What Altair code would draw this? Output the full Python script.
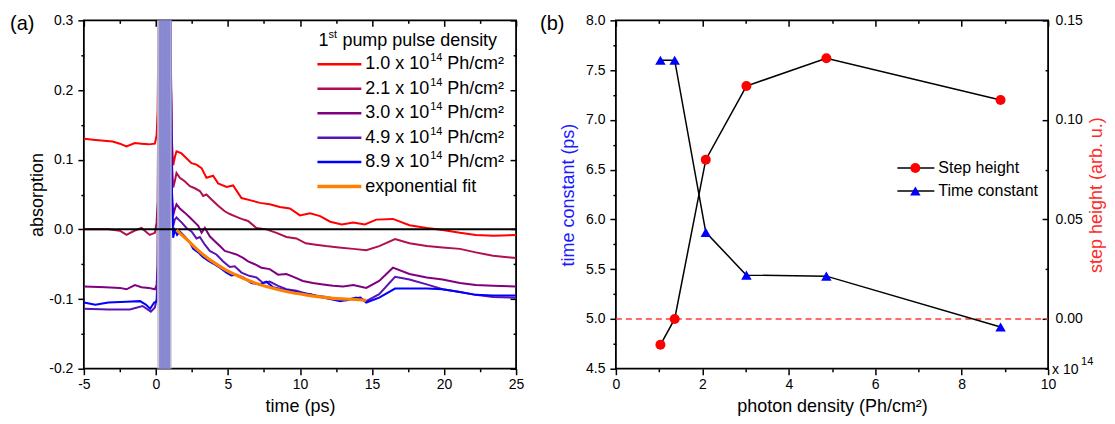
import altair as alt
import pandas as pd

FONT = "Liberation Sans"
W, H = 433, 349

# ---------------- panel (a): transient absorption traces ----------------
RED_T = [-5, -4, -3, -2.5, -2.04, -1.46, -1.0, -0.5, -0.07, 0.05, 0.12, 0.25, 0.45, 0.65, 0.85, 1.0, 1.08,
         1.2, 1.31, 1.43, 1.78, 2.12, 2.47, 2.82, 3.17, 3.51, 3.97, 4.32, 4.9, 5.36, 5.94, 6.52, 7.21, 7.9,
         8.6, 9.3, 10.0, 10.7, 11.4, 12.1, 12.9, 13.7, 14.5, 15.3, 16.45, 17.6, 18.8, 19.9, 21.1, 22.2, 23.4, 25]
RED_V = [0.130, 0.128, 0.126, 0.123, 0.119, 0.124, 0.123, 0.122, 0.123, 0.135, 0.17, 0.45, -0.3, 0.45, -0.3, 0.35, 0.14,
         0.092, 0.103, 0.112, 0.109, 0.102, 0.095, 0.093, 0.088, 0.074, 0.077, 0.066, 0.061, 0.063, 0.045, 0.042, 0.038, 0.036,
         0.032, 0.030, 0.020, 0.023, 0.019, 0.011, 0.007, 0.010, 0.007, 0.014, 0.015, 0.006, 0.002, -0.001, -0.005, -0.008, -0.009, -0.008]

CRIM_T = [-5, -3.3, -2.5, -2.04, -1.5, -1.0, -0.43, -0.07, 0.05, 0.12, 0.25, 0.45, 0.65, 0.85, 1.0, 1.1, 1.2,
          1.31, 1.43, 1.66, 2.0, 2.36, 2.7, 3.05, 3.28, 3.51, 3.86, 4.32, 4.78, 5.13, 5.47, 5.94, 6.4, 6.98, 7.67,
          8.37, 9.06, 9.75, 10.4, 11.1, 11.8, 12.7, 13.7, 14.6, 15.5, 16.6, 17.6, 18.8, 19.9, 21.1, 22.2, 23.4, 25]
CRIM_V = [0.0, 0.0, -0.002, -0.008, -0.002, 0.002, -0.008, -0.005, 0.01, 0.04, 0.45, -0.3, 0.45, -0.3, 0.35, 0.1, 0.06,
          0.069, 0.081, 0.074, 0.069, 0.062, 0.059, 0.055, 0.048, 0.050, 0.043, 0.034, 0.026, 0.022, 0.019, 0.015, 0.012, 0.002, 0.000,
          -0.005, -0.011, -0.013, -0.020, -0.022, -0.024, -0.026, -0.028, -0.030, -0.024, -0.014, -0.020, -0.024, -0.026, -0.028, -0.033, -0.038, -0.041]

PURP_T = [-5, -3.5, -2.5, -2.04, -1.46, -1.0, -0.5, -0.07, 0.05, 0.12, 0.25, 0.45, 0.65, 0.85, 1.0, 1.1, 1.2,
          1.31, 1.43, 1.66, 2.0, 2.36, 2.7, 2.94, 3.17, 3.4, 3.74, 4.09, 4.44, 4.78, 5.13, 5.59, 6.05, 6.4, 6.86,
          7.32, 7.9, 8.48, 9.06, 9.63, 10.2, 10.9, 11.6, 12.3, 13.0, 13.7, 14.6, 15.5, 16.45, 17.6, 18.8, 19.9,
          21.1, 22.2, 23.4, 25]
PURP_V = [-0.082, -0.083, -0.084, -0.086, -0.080, -0.083, -0.084, -0.086, -0.08, -0.05, 0.45, -0.3, 0.45, -0.3, 0.35, 0.06, 0.02,
          0.029, 0.036, 0.030, 0.024, 0.017, 0.010, 0.005, -0.005, 0.002, -0.010, -0.017, -0.024, -0.031, -0.033, -0.036, -0.041, -0.046, -0.050,
          -0.055, -0.057, -0.065, -0.064, -0.069, -0.074, -0.077, -0.079, -0.081, -0.082, -0.080, -0.084, -0.074, -0.055, -0.064, -0.069, -0.072,
          -0.077, -0.080, -0.081, -0.082]

VIOL_T = [-5, -3.3, -1.8, -0.93, -0.35, -0.07, 0.05, 0.12, 0.25, 0.45, 0.65, 0.85, 1.0, 1.1, 1.2,
          1.31, 1.43, 1.78, 2.12, 2.47, 2.82, 3.05, 3.4, 3.74, 4.2, 4.67, 5.13, 5.47, 5.94, 6.52, 6.98, 7.44,
          7.9, 8.48, 9.06, 9.75, 10.4, 11.1, 11.8, 12.5, 13.2, 13.9, 14.6, 15.5, 16.6, 17.6, 18.8, 19.9, 21.1,
          22.2, 23.4, 25]
VIOL_V = [-0.114, -0.115, -0.115, -0.110, -0.118, -0.112, -0.10, -0.06, 0.45, -0.3, 0.45, -0.3, 0.35, 0.05, 0.005,
          0.014, 0.017, 0.010, 0.002, -0.003, -0.013, -0.011, -0.022, -0.031, -0.036, -0.046, -0.054, -0.053, -0.062, -0.067, -0.069, -0.077,
          -0.075, -0.081, -0.086, -0.088, -0.092, -0.095, -0.097, -0.100, -0.102, -0.098, -0.103, -0.093, -0.068, -0.072, -0.079, -0.086, -0.090,
          -0.094, -0.097, -0.098]

BLUE_T = [-5, -4.2, -3.3, -2.04, -1.1, -0.7, -0.4, -0.12, 0.1, 0.15, 0.25, 0.45, 0.65, 0.85, 1.0, 1.1, 1.2,
          1.31, 1.47, 1.66, 2.0, 2.36, 2.59, 2.94, 3.28, 3.63, 3.97, 4.44, 4.9, 5.24, 5.59, 6.05, 6.63, 7.21,
          7.67, 8.13, 8.71, 9.29, 10.0, 10.7, 11.4, 12.1, 12.8, 13.5, 14.2, 14.6, 15.5, 16.6, 17.6, 18.8, 19.9,
          21.1, 22.2, 23.4, 25]
BLUE_V = [-0.105, -0.108, -0.105, -0.104, -0.103, -0.108, -0.114, -0.105, -0.103, -0.09, 0.45, -0.3, 0.45, -0.3, 0.35, 0.06, -0.012,
          -0.001, -0.008, -0.003, -0.010, -0.019, -0.028, -0.033, -0.040, -0.045, -0.049, -0.055, -0.062, -0.066, -0.065, -0.069, -0.077, -0.079,
          -0.075, -0.083, -0.086, -0.088, -0.091, -0.093, -0.097, -0.100, -0.103, -0.100, -0.098, -0.105, -0.098, -0.085, -0.085, -0.085, -0.086,
          -0.090, -0.094, -0.095, -0.095]

FIT_T = [1.43, 2.12, 2.82, 3.51, 4.2, 4.9, 5.82, 6.75, 7.67, 8.6, 9.52, 10.4, 11.4, 12.3, 13.2, 14.1, 14.6]
FIT_V = [-0.001, -0.014, -0.028, -0.040, -0.050, -0.059, -0.068, -0.076, -0.082, -0.087, -0.091, -0.094, -0.097,
         -0.099, -0.100, -0.101, -0.102]

SERIES_LABELS = ["1.0", "2.1", "3.0", "4.9", "8.9"]
SERIES_COLORS = ["#ff0000", "#b0104f", "#800080", "#5a14b4", "#0000ff"]
FIT_LABEL = "exponential fit"
FIT_COLOR = "#ff8000"
LEGEND_TITLE = ["1", "st", "pump pulse density"]

PUMP_BAND = [0.08, 1.10]
PUMP_CORE = [0.22, 1.00]

A_X_DOMAIN = [-5, 25]
A_Y_DOMAIN = [-0.2, 0.3]
A_X_MAJOR = [-5, 0, 5, 10, 15, 20, 25]
A_X_MINOR = [-2.5, 2.5, 7.5, 12.5, 17.5, 22.5]
A_Y_MAJOR = [-0.2, -0.1, 0.0, 0.1, 0.2, 0.3]
A_Y_MINOR = [-0.15, -0.05, 0.05, 0.15, 0.25]

# ---------------- panel (b): fit parameters ----------------
DENSITY = [1.03, 1.36, 2.08, 3.02, 4.87, 8.90]
TIME_CONST = [7.60, 7.60, 5.87, 5.44, 5.43, 4.92]
STEP_HEIGHT = [-0.013, 0.000, 0.080, 0.117, 0.131, 0.110]
B_LEGEND = ["Step height", "Time constant"]

B_X_DOMAIN = [0, 10]
B_Y1_DOMAIN = [4.5, 8.0]
B_Y2_DOMAIN = [-0.025, 0.15]
B_X_MAJOR = [0, 2, 4, 6, 8, 10]
B_X_MINOR = [1, 3, 5, 7, 9]
B_Y1_MAJOR = [4.5, 5.0, 5.5, 6.0, 6.5, 7.0, 7.5, 8.0]
B_Y1_MINOR = [4.75, 5.25, 5.75, 6.25, 6.75, 7.25, 7.75]
B_Y2_MAJOR = [0.0, 0.05, 0.10, 0.15]
B_Y2_MINOR = [-0.025, 0.025, 0.075, 0.125]
STEP_ZERO = 0.0

ONE = pd.DataFrame({"k": [0]})


def sc(domain):
    return alt.Scale(domain=domain, nice=False, zero=False)


def axis_layer(channel, values, domain, other_domain, orient, size, inward=False, labels=False, fmt=None,
               title=None, title_color="black", title_padding=0, label_padding=4, title_angle=None,
               title_baseline=None):
    props = dict(values=values, orient=orient, tickSize=size, tickWidth=1.5, tickColor="black",
                 domain=False, grid=False, labels=labels, ticks=True, title=title)
    if inward:
        props["offset"] = -size
    if labels:
        props.update(labelExpr=f"replace(format(datum.value, '{fmt}'), '\u2212', '-')",
                     labelFont=FONT, labelFontSize=14, labelColor="black",
                     labelPadding=label_padding, labelOverlap=False, labelFlush=False)
    if title is not None:
        props.update(titleFont=FONT, titleFontSize=18, titleFontWeight="normal",
                     titleColor=title_color, titlePadding=title_padding)
        if title_angle is not None:
            props["titleAngle"] = title_angle
        if title_baseline is not None:
            props["titleBaseline"] = title_baseline
    ax = alt.Axis(**props)
    df = pd.DataFrame({"tick": values, "other": [other_domain[0]] * len(values)})
    base = alt.Chart(df).mark_point(opacity=0)
    if channel == "x":
        return base.encode(x=alt.X("tick:Q", axis=ax, scale=sc(domain)),
                           y=alt.Y("other:Q", axis=None, scale=sc(other_domain)))
    return base.encode(y=alt.Y("tick:Q", axis=ax, scale=sc(domain)),
                       x=alt.X("other:Q", axis=None, scale=sc(other_domain)))


def txt(s, x, y, size, color="black", align="left", baseline="middle"):
    return alt.Chart(ONE).mark_text(text=s, font=FONT, fontSize=size, color=color, align=align,
                                    baseline=baseline).encode(x=alt.value(x), y=alt.value(y))


def seg(x1, x2, y, color, width):
    return alt.Chart(ONE).mark_rule(color=color, strokeWidth=width).encode(
        x=alt.value(x1), x2=alt.value(x2), y=alt.value(y))


def hline(yv, xdom, ydom, color, width, dash=None):
    df = pd.DataFrame({"x0": [xdom[0]], "x1": [xdom[1]], "yv": [yv]})
    kw = dict(color=color, strokeWidth=width)
    if dash:
        kw["strokeDash"] = dash
    return alt.Chart(df).mark_rule(**kw).encode(
        x=alt.X("x0:Q", scale=sc(xdom), axis=None), x2="x1:Q",
        y=alt.Y("yv:Q", scale=sc(ydom), axis=None))


def line_layer(t, v, color, width=2.0, interp="linear"):
    assert len(t) == len(v)
    df = pd.DataFrame({"t": t, "v": v})
    return alt.Chart(df).mark_line(color=color, strokeWidth=width, clip=True, interpolate=interp).encode(
        x=alt.X("t:Q", scale=sc(A_X_DOMAIN), axis=None),
        y=alt.Y("v:Q", scale=sc(A_Y_DOMAIN), axis=None))


def band(lims, color, opacity):
    df = pd.DataFrame({"t0": [lims[0]], "t1": [lims[1]], "v0": [A_Y_DOMAIN[0]], "v1": [A_Y_DOMAIN[1]]})
    return alt.Chart(df).mark_rect(color=color, opacity=opacity, clip=True).encode(
        x=alt.X("t0:Q", scale=sc(A_X_DOMAIN), axis=None), x2="t1:Q",
        y=alt.Y("v0:Q", scale=sc(A_Y_DOMAIN), axis=None), y2="v1:Q")


# ---- panel (a) assembly
series = [(RED_T, RED_V), (CRIM_T, CRIM_V), (PURP_T, PURP_V), (VIOL_T, VIOL_V), (BLUE_T, BLUE_V)]
lines = [line_layer(t, v, c) for (t, v), c in zip(series, SERIES_COLORS)]
fit = line_layer(FIT_T, FIT_V, FIT_COLOR, width=3.2, interp="monotone")
zero_a = hline(0.0, A_X_DOMAIN, A_Y_DOMAIN, "black", 2)

axes_a = [
    axis_layer("x", A_X_MAJOR, A_X_DOMAIN, A_Y_DOMAIN, "bottom", 6, labels=True, fmt="d", title="time (ps)",
               title_padding=6, label_padding=3),
    axis_layer("x", A_X_MINOR, A_X_DOMAIN, A_Y_DOMAIN, "bottom", 3),
    axis_layer("y", A_Y_MAJOR, A_Y_DOMAIN, A_X_DOMAIN, "left", 6, labels=True, fmt=".1f", title="absorption",
               title_padding=2, label_padding=5),
    axis_layer("y", A_Y_MINOR, A_Y_DOMAIN, A_X_DOMAIN, "left", 3),
    axis_layer("x", A_X_MAJOR, A_X_DOMAIN, A_Y_DOMAIN, "top", 6, inward=True),
    axis_layer("x", A_X_MINOR, A_X_DOMAIN, A_Y_DOMAIN, "top", 3, inward=True),
    axis_layer("y", A_Y_MAJOR, A_Y_DOMAIN, A_X_DOMAIN, "right", 6, inward=True),
    axis_layer("y", A_Y_MINOR, A_Y_DOMAIN, A_X_DOMAIN, "right", 3, inward=True),
]

leg_a = []
LX0, LX1, LTX = 234, 278, 282
ROW0, ROWD = 44, 24.5
leg_a.append(txt(LEGEND_TITLE[0], 235, 21, 18))
leg_a.append(txt(LEGEND_TITLE[1], 245, 15, 11))
leg_a.append(txt(LEGEND_TITLE[2], 259, 21, 18))
for i, (lab, col) in enumerate(zip(SERIES_LABELS, SERIES_COLORS)):
    yy = ROW0 + ROWD * i
    leg_a.append(seg(LX0, LX1, yy, col, 2.5))
    leg_a.append(txt(f"{lab} x 10", LTX, yy, 18))
    leg_a.append(txt("14", LTX + 65, yy - 6, 11))
    leg_a.append(txt("Ph/cm\u00b2", LTX + 82, yy, 18))
yy = ROW0 + ROWD * 5
leg_a.append(seg(LX0, LX1, yy, FIT_COLOR, 3.5))
leg_a.append(txt(FIT_LABEL, LTX, yy, 18))
leg_a.append(txt("(a)", -74, 4, 20))

panel_a = alt.layer(
    *lines, band(PUMP_BAND, "#c8c8c8", 0.9), band(PUMP_CORE, "#8686d2", 0.95), zero_a, fit, *axes_a, *leg_a
).resolve_axis(x="independent", y="independent").properties(width=W, height=H)

# ---- panel (b) assembly (flat layer; every y scale has an explicit domain)
bdf = pd.DataFrame({"d": DENSITY, "tc": TIME_CONST, "sh": STEP_HEIGHT})


def bx():
    return alt.X("d:Q", scale=sc(B_X_DOMAIN), axis=None)


tc_line = alt.Chart(bdf).mark_line(color="black", strokeWidth=1.5).encode(
    x=bx(), y=alt.Y("tc:Q", scale=sc(B_Y1_DOMAIN), axis=None))
tc_pts = alt.Chart(bdf).mark_point(shape="triangle-up", filled=True, size=110, color="#0000ff", opacity=1).encode(
    x=bx(), y=alt.Y("tc:Q", scale=sc(B_Y1_DOMAIN), axis=None))
sh_zero = hline(STEP_ZERO, B_X_DOMAIN, B_Y2_DOMAIN, "#ff3b3b", 1.5, dash=[6, 4])
sh_line = alt.Chart(bdf).mark_line(color="black", strokeWidth=1.5).encode(
    x=bx(), y=alt.Y("sh:Q", scale=sc(B_Y2_DOMAIN), axis=None))
sh_pts = alt.Chart(bdf).mark_point(shape="circle", filled=True, size=100, color="#ff0000", opacity=1).encode(
    x=bx(), y=alt.Y("sh:Q", scale=sc(B_Y2_DOMAIN), axis=None))

axes_b = [
    axis_layer("y", B_Y1_MAJOR, B_Y1_DOMAIN, B_X_DOMAIN, "left", 6, labels=True, fmt=".1f",
               title="time constant (ps)", title_color="#1a1aff", title_padding=8, label_padding=5),
    axis_layer("y", B_Y1_MINOR, B_Y1_DOMAIN, B_X_DOMAIN, "left", 3),
    axis_layer("y", B_Y2_MAJOR, B_Y2_DOMAIN, B_X_DOMAIN, "right", 6, inward=True, labels=True, fmt=".2f",
               title="step height (arb. u.)", title_color="#ff2a2a", title_padding=5, label_padding=7,
               title_angle=270, title_baseline="top"),
    axis_layer("y", B_Y2_MINOR, B_Y2_DOMAIN, B_X_DOMAIN, "right", 3, inward=True),
    axis_layer("x", B_X_MAJOR, B_X_DOMAIN, B_Y1_DOMAIN, "bottom", 6, labels=True, fmt="d",
               title="photon density (Ph/cm\u00b2)", title_padding=6, label_padding=3),
    axis_layer("x", B_X_MINOR, B_X_DOMAIN, B_Y1_DOMAIN, "bottom", 3),
    axis_layer("x", B_X_MAJOR, B_X_DOMAIN, B_Y1_DOMAIN, "top", 6, inward=True),
    axis_layer("x", B_X_MINOR, B_X_DOMAIN, B_Y1_DOMAIN, "top", 3, inward=True),
]

leg_b = [
    seg(282, 319, 148, "black", 1.5),
    alt.Chart(ONE).mark_point(shape="circle", filled=True, size=100, color="#ff0000", opacity=1).encode(
        x=alt.value(300), y=alt.value(148)),
    txt(B_LEGEND[0], 323, 148, 16),
    seg(282, 319, 171, "black", 1.5),
    alt.Chart(ONE).mark_point(shape="triangle-up", filled=True, size=110, color="#0000ff", opacity=1).encode(
        x=alt.value(300), y=alt.value(171)),
    txt(B_LEGEND[1], 323, 171, 16),
    txt("x 10", 437, 350, 14),
    txt("14", 466, 342, 11),
    txt("(b)", -76, 4, 20),
]

panel_b = alt.layer(sh_zero, tc_line, sh_line, tc_pts, sh_pts, *axes_b, *leg_b).resolve_scale(
    y="independent").resolve_axis(x="independent", y="independent").properties(width=W, height=H)

chart = alt.hconcat(panel_a, panel_b, spacing=14).properties(
    padding={"left": 1, "top": 4, "right": 0, "bottom": 0},
    background="white",
).configure_view(stroke="black", strokeWidth=1.8)

chart.save("out.html", embed_options={"renderer": "svg", "actions": False})
